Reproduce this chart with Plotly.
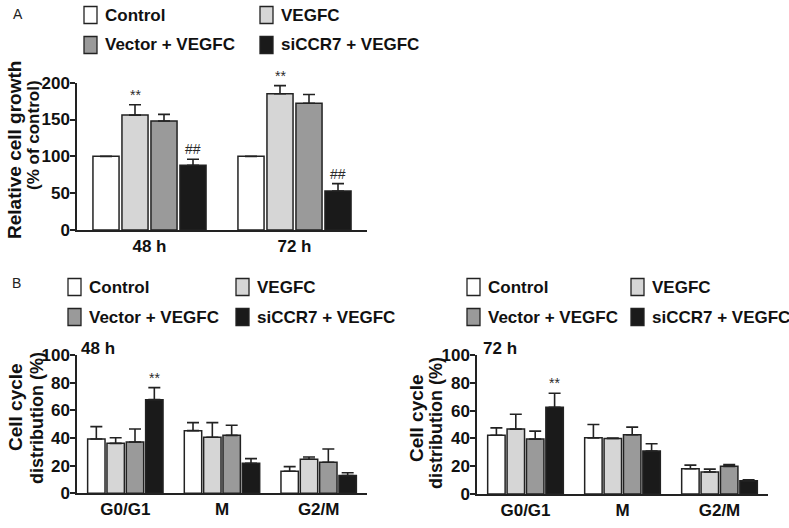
import plotly.graph_objects as go

W, H = 789, 528

# ---------------- data ----------------
series_names = ["Control", "VEGFC", "Vector + VEGFC", "siCCR7 + VEGFC"]
series_colors = ["#ffffff", "#d6d6d6", "#9a9a9a", "#1a1a1a"]

# Panel A: relative cell growth
a_categories = ["48 h", "72 h"]
a_control = [100, 100]
a_vegfc = [156, 185]
a_vector = [148, 172]
a_siccr7 = [88, 53]
a_control_err = [0, 0]
a_vegfc_err = [14, 11]
a_vector_err = [9, 12]
a_siccr7_err = [8, 10]
a_vegfc_sig = ["**", "**"]
a_siccr7_sig = ["##", "##"]

# Panel B: cell cycle distribution
b_categories = ["G0/G1", "M", "G2/M"]
b48_control = [39.3, 45.3, 15.9]
b48_vegfc = [36.1, 40.5, 24.6]
b48_vector = [37.1, 41.9, 22.4]
b48_siccr7 = [67.7, 21.7, 12.8]
b48_control_err = [8.9, 5.8, 3.4]
b48_vegfc_err = [4.1, 10.6, 1.7]
b48_vector_err = [9.4, 7.3, 9.6]
b48_siccr7_err = [8.7, 3.4, 2.1]
b48_siccr7_sig = ["**", "", ""]

b72_control = [42.3, 40.4, 18.2]
b72_vegfc = [46.7, 40.0, 15.8]
b72_vector = [39.5, 42.6, 19.9]
b72_siccr7 = [62.4, 30.9, 9.6]
b72_control_err = [5.3, 9.6, 2.6]
b72_vegfc_err = [10.7, 0.3, 2.1]
b72_vector_err = [5.7, 5.5, 1.2]
b72_siccr7_err = [10.1, 5.2, 0.7]
b72_siccr7_sig = ["**", "", ""]

# ---------------- helpers ----------------
FONT = "Liberation Sans, Arial, sans-serif"
INK = "#222222"


def px(x):
    return x / W


def py(y):
    return 1 - y / H


fig = go.Figure()


def add_panel(cats, vals, errs, xa, ya):
    for name, color, v, e in zip(series_names, series_colors, vals, errs):
        fig.add_trace(go.Bar(
            x=cats, y=v, name=name,
            marker=dict(color=color, line=dict(color=INK, width=1.5)),
            error_y=dict(type="data", symmetric=False, array=e,
                         arrayminus=[0] * len(e), color=INK,
                         thickness=1.6, width=6),
            xaxis=xa, yaxis=ya, showlegend=False,
        ))


add_panel(a_categories, [a_control, a_vegfc, a_vector, a_siccr7],
          [a_control_err, a_vegfc_err, a_vector_err, a_siccr7_err], "x", "y")
add_panel(b_categories, [b48_control, b48_vegfc, b48_vector, b48_siccr7],
          [b48_control_err, b48_vegfc_err, b48_vector_err, b48_siccr7_err], "x2", "y2")
add_panel(b_categories, [b72_control, b72_vegfc, b72_vector, b72_siccr7],
          [b72_control_err, b72_vegfc_err, b72_vector_err, b72_siccr7_err], "x3", "y3")

annotations = []
shapes = []

# offsets of each series inside a group (bargap 0.2, 4 series)
offsets = [-0.3, -0.1, 0.1, 0.3]


def add_sig(marks, vals, errs, series_idx, xref, yref, pad):
    for i, m in enumerate(marks):
        if not m:
            continue
        annotations.append(dict(
            x=i + offsets[series_idx], y=vals[i] + errs[i] + pad,
            xref=xref, yref=yref, text=m, showarrow=False,
            xanchor="center", yanchor="bottom",
            font=dict(family=FONT, size=14, color="#2a2a2a"),
        ))


add_sig(a_vegfc_sig, a_vegfc, a_vegfc_err, 1, "x", "y", 0)
add_sig(a_siccr7_sig, a_siccr7, a_siccr7_err, 3, "x", "y", 0)
add_sig(b48_siccr7_sig, b48_siccr7, b48_siccr7_err, 3, "x2", "y2", 0)
add_sig(b72_siccr7_sig, b72_siccr7, b72_siccr7_err, 3, "x3", "y3", 0)


def add_legend(x1, x2, y1, y2):
    # x1,x2: left px of the two columns; y1,y2: row centers
    pos = [(x1, y1), (x2, y1), (x1, y2), (x2, y2)]
    for (x, y), name, color in zip(pos, series_names, series_colors):
        shapes.append(dict(type="rect", xref="paper", yref="paper",
                           x0=px(x), x1=px(x + 13), y0=py(y - 8.5), y1=py(y + 8.5),
                           fillcolor=color, line=dict(color=INK, width=1.3)))
        annotations.append(dict(x=px(x + 19), y=py(y), xref="paper", yref="paper",
                                text=name, showarrow=False, xanchor="left",
                                yanchor="middle",
                                font=dict(family=FONT, size=17, color="#111111",
                                          weight="bold")))


add_legend(84, 260, 15, 45)
add_legend(68, 236, 287, 317)
add_legend(467, 631, 287, 317)

# panel letters
annotations.append(dict(x=px(11), y=py(14), xref="paper", yref="paper", text="A",
                        showarrow=False, xanchor="left", yanchor="middle",
                        font=dict(family=FONT, size=14, color="#222")))
annotations.append(dict(x=px(10), y=py(283), xref="paper", yref="paper", text="B",
                        showarrow=False, xanchor="left", yanchor="middle",
                        font=dict(family=FONT, size=14, color="#222")))

# time labels in panel B
for xx, txt in [(79, "48 h"), (481, "72 h")]:
    annotations.append(dict(x=px(xx), y=py(348), xref="paper", yref="paper", text=txt,
                            showarrow=False, xanchor="left", yanchor="middle",
                            font=dict(family=FONT, size=17, color="#111",
                                      weight="bold")))

# y-axis titles
ylabels = [
    (14, 150, "Relative cell growth", 19),
    (34, 135, "(% of control)", 17),
    (15, 407, "Cell cycle", 19),
    (37, 418, "distribution (%)", 18),
    (416, 418, "Cell cycle", 19),
    (436, 423, "distribution (%)", 18),
]
for xx, yy, txt, sz in ylabels:
    annotations.append(dict(x=px(xx), y=py(yy), xref="paper", yref="paper", text=txt,
                            showarrow=False, xanchor="center", yanchor="middle",
                            textangle=-90,
                            font=dict(family=FONT, size=sz, color="#111",
                                      weight="bold")))

tickfont = dict(family=FONT, size=17, color="#111", weight="bold")
xcommon = dict(showline=True, linecolor=INK, linewidth=1.5, ticks="",
               showgrid=False, zeroline=False, tickfont=tickfont,
               fixedrange=True, automargin=False)
ycommon = dict(showline=True, linecolor=INK, linewidth=1.5, ticks="outside",
               ticklen=5, tickwidth=1.5, tickcolor=INK, showgrid=False,
               zeroline=False, tickfont=tickfont, fixedrange=True,
               automargin=False, ticklabelstandoff=-3)

fig.update_layout(
    template="none",
    width=W, height=H,
    margin=dict(l=0, r=0, t=0, b=0, pad=0),
    paper_bgcolor="white", plot_bgcolor="white",
    barmode="group", bargap=0.2, bargroupgap=0.1,
    xaxis=dict(domain=[px(77), px(367)], anchor="y", **xcommon),
    yaxis=dict(domain=[py(230), py(82.7)], anchor="x", range=[0, 200],
               tickvals=[0, 50, 100, 150, 200], **ycommon),
    xaxis2=dict(domain=[px(77), px(367)], anchor="y2", **xcommon),
    yaxis2=dict(domain=[py(493.3), py(355)], anchor="x2", range=[0, 100],
                tickvals=[0, 20, 40, 60, 80, 100], **ycommon),
    xaxis3=dict(domain=[px(477), px(768)], anchor="y3", **xcommon),
    yaxis3=dict(domain=[py(494), py(355)], anchor="x3", range=[0, 100],
                tickvals=[0, 20, 40, 60, 80, 100], **ycommon),
    annotations=annotations,
    shapes=shapes,
    showlegend=False,
)

fig.write_html("out.html",
               config={"displayModeBar": False},
               post_script="document.body.style.margin='0';"
                           "document.body.style.padding='0';")
